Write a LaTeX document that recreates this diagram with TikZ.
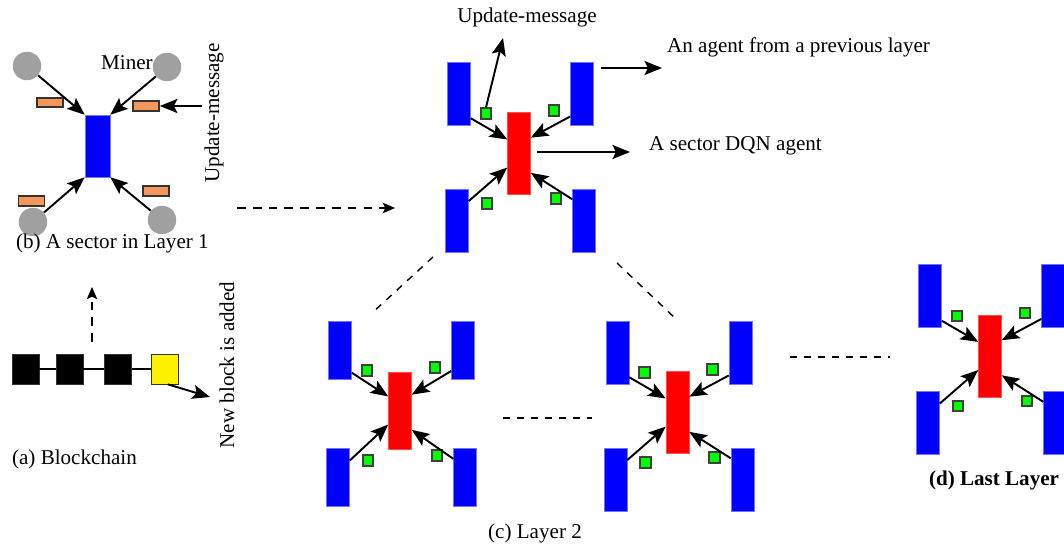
\documentclass[tikz,border=0pt]{standalone}
\usepackage{fontspec}
\setmainfont{Liberation Serif}
\usetikzlibrary{arrows.meta}

\definecolor{minergray}{RGB}{160,160,160}
\definecolor{msgorange}{RGB}{245,150,90}

\tikzset{
    agent/.style={fill=blue,draw=blue!55,line width=0.3pt,inner sep=0pt,
        minimum width=0.46cm,minimum height=1.26cm},
    dqn/.style={fill=red,draw=red!70,line width=0.3pt,inner sep=0pt,
        minimum width=0.46cm,minimum height=1.64cm},
    msg/.style={fill=green,draw=black!75,line width=1pt,inner sep=0pt,
        minimum size=0.21cm},
    miner/.style={circle,fill=minergray,inner sep=0pt,minimum size=0.57cm},
    upd/.style={fill=msgorange,draw=black!80,line width=0.9pt,inner sep=0pt,
        minimum width=0.52cm,minimum height=0.19cm},
    block/.style={fill=black,draw=black!80,inner sep=0pt,
        minimum width=0.54cm,minimum height=0.6cm},
    arr/.style={line width=1.1pt,-{Stealth[length=10pt,width=8pt,inset=2pt]}},
    dasharr/.style={line width=0.8pt,dash pattern=on 5pt off 4pt,
        -{Stealth[length=7pt,width=6pt,inset=1.5pt]}},
    dashline/.style={line width=0.8pt,dash pattern=on 4pt off 4pt},
    lbl/.style={font=\fontsize{12}{14}\selectfont,inner sep=1pt},
    pics/sector/.style={code={
        \node[dqn] (-red) at (0,0) {};
        \node[agent] (-tl) at (-60,-60) {};
        \node[agent] (-tr) at (63,-60) {};
        \node[agent] (-bl) at (-62,67) {};
        \node[agent] (-br) at (65,67) {};
        \node[msg] (-gtl) at (-33,-40) {};
        \node[msg] (-gtr) at (35,-43) {};
        \node[msg] (-gbl) at (-32,50) {};
        \node[msg] (-gbr) at (37,45) {};
        \draw[arr] ([yshift=4pt]-tl.south east) -- ([yshift=8pt]-red.west);
        \draw[arr] ([yshift=5pt]-tr.south west) -- ([yshift=9pt]-red.east);
        \draw[arr] ([yshift=-7pt]-bl.north east) -- ([yshift=-8pt]-red.west);
        \draw[arr] ([yshift=-6pt]-br.north west) -- ([yshift=-11pt]-red.east);
    }}
}

\begin{document}
\begin{tikzpicture}[x=0.02cm,y=-0.02cm]
    \useasboundingbox (0,0) rectangle (1064,547);
    \clip (0,0) rectangle (1064,547);

    \node[agent,minimum width=0.5cm,minimum height=1.24cm] (sec1) at (97.5,146) {};
    \node[miner] (m1) at (27,66) {};
    \node[miner] (m2) at (167,67) {};
    \node[miner] (m3) at (33,222) {};
    \node[miner] (m4) at (162,220) {};
    \node[upd] (u1) at (50,102.5) {};
    \node[upd] (u2) at (146,106) {};
    \node[upd] (u3) at (31.5,201) {};
    \node[upd] (u4) at (156,191) {};
    \draw[arr] (m1) -- (sec1.north west);
    \draw[arr] (m2) -- (sec1.north east);
    \draw[arr] (m3) -- (sec1.south west);
    \draw[arr] (m4) -- (sec1.south east);
    \node[lbl] (minerlbl) at (127,63) {Miner};
    \node[lbl,rotate=90] (updl1) at (214,113) {Update-message};
    \draw[arr] (updl1.north |- u2) -- (u2.east);
    \node[lbl,anchor=west] (capb) at (14,243) {(b) A sector in Layer 1};

    \coordinate (tolayer2a) at (237,208);
    \coordinate (tolayer2b) at (395,208);
    \draw[dasharr] (tolayer2a) -- (tolayer2b);

    \node[block] (b1) at (25.5,369) {};
    \node[block] (b2) at (69.5,369) {};
    \node[block] (b3) at (118,369) {};
    \node[block,fill=yellow] (b4) at (164.5,369) {};
    \draw[thick] (b1) -- (b2) (b2) -- (b3) (b3) -- (b4);
    \coordinate (upa) at (92,342);
    \coordinate (upb) at (92,287);
    \draw[dasharr,line width=0.6pt] (upa) -- (upb);
    \node[lbl,rotate=90] (newblk) at (227,365) {New block is added};
    \coordinate (newend) at (210,397);
    \draw[arr] ([xshift=-6pt]b4.south east) -- (newend);
    \node[lbl,anchor=west] (capa) at (10,459) {(a) Blockchain};

    \pic (top) at (519,153.5) {sector};
    \node[lbl] (updlbl) at (527,17) {Update-message};
    \coordinate (updend) at (503,38);
    \draw[arr] (top-gtl.north) -- (updend);
    \node[lbl,anchor=west] (prevlbl) at (665,47) {An agent from a previous layer};
    \coordinate (prevend) at (662,68);
    \draw[arr,shorten <=4pt] (top-tr.east |- prevend) -- (prevend);
    \node[lbl,anchor=west] (dqnlbl) at (647,146) {A sector DQN agent};
    \coordinate (dqnend) at (630,152);
    \draw[arr,shorten <=3.5pt] (top-red.east |- dqnend) -- (dqnend);

    \pic[agent/.append style={minimum height=1.16cm},
        dqn/.append style={minimum height=1.54cm}] (lay2a) at (400,410.5) {sector};
    \pic (lay2b) at (677.5,412.5) {sector};
    \node[lbl] (capc) at (535,533) {(c) Layer 2};

    \coordinate (da1) at (433,257);
    \coordinate (da2) at (372,313);
    \coordinate (db1) at (617,263);
    \coordinate (db2) at (677,320);
    \draw[dashline] (da1) -- (da2);
    \draw[dashline] (db1) -- (db2);
    \coordinate (dc1) at (503,418);
    \coordinate (dc2) at (592,418);
    \draw[dashline] (dc1) -- (dc2);
    \coordinate (dd1) at (790,357);
    \coordinate (dd2) at (890,357);
    \draw[dashline] (dd1) -- (dd2);

    \pic (last) at (990,356) {sector};
    \node[lbl,font=\fontsize{12}{14}\selectfont\bfseries] (capd) at (994,480) {(d) Last Layer};
\end{tikzpicture}
\end{document}
